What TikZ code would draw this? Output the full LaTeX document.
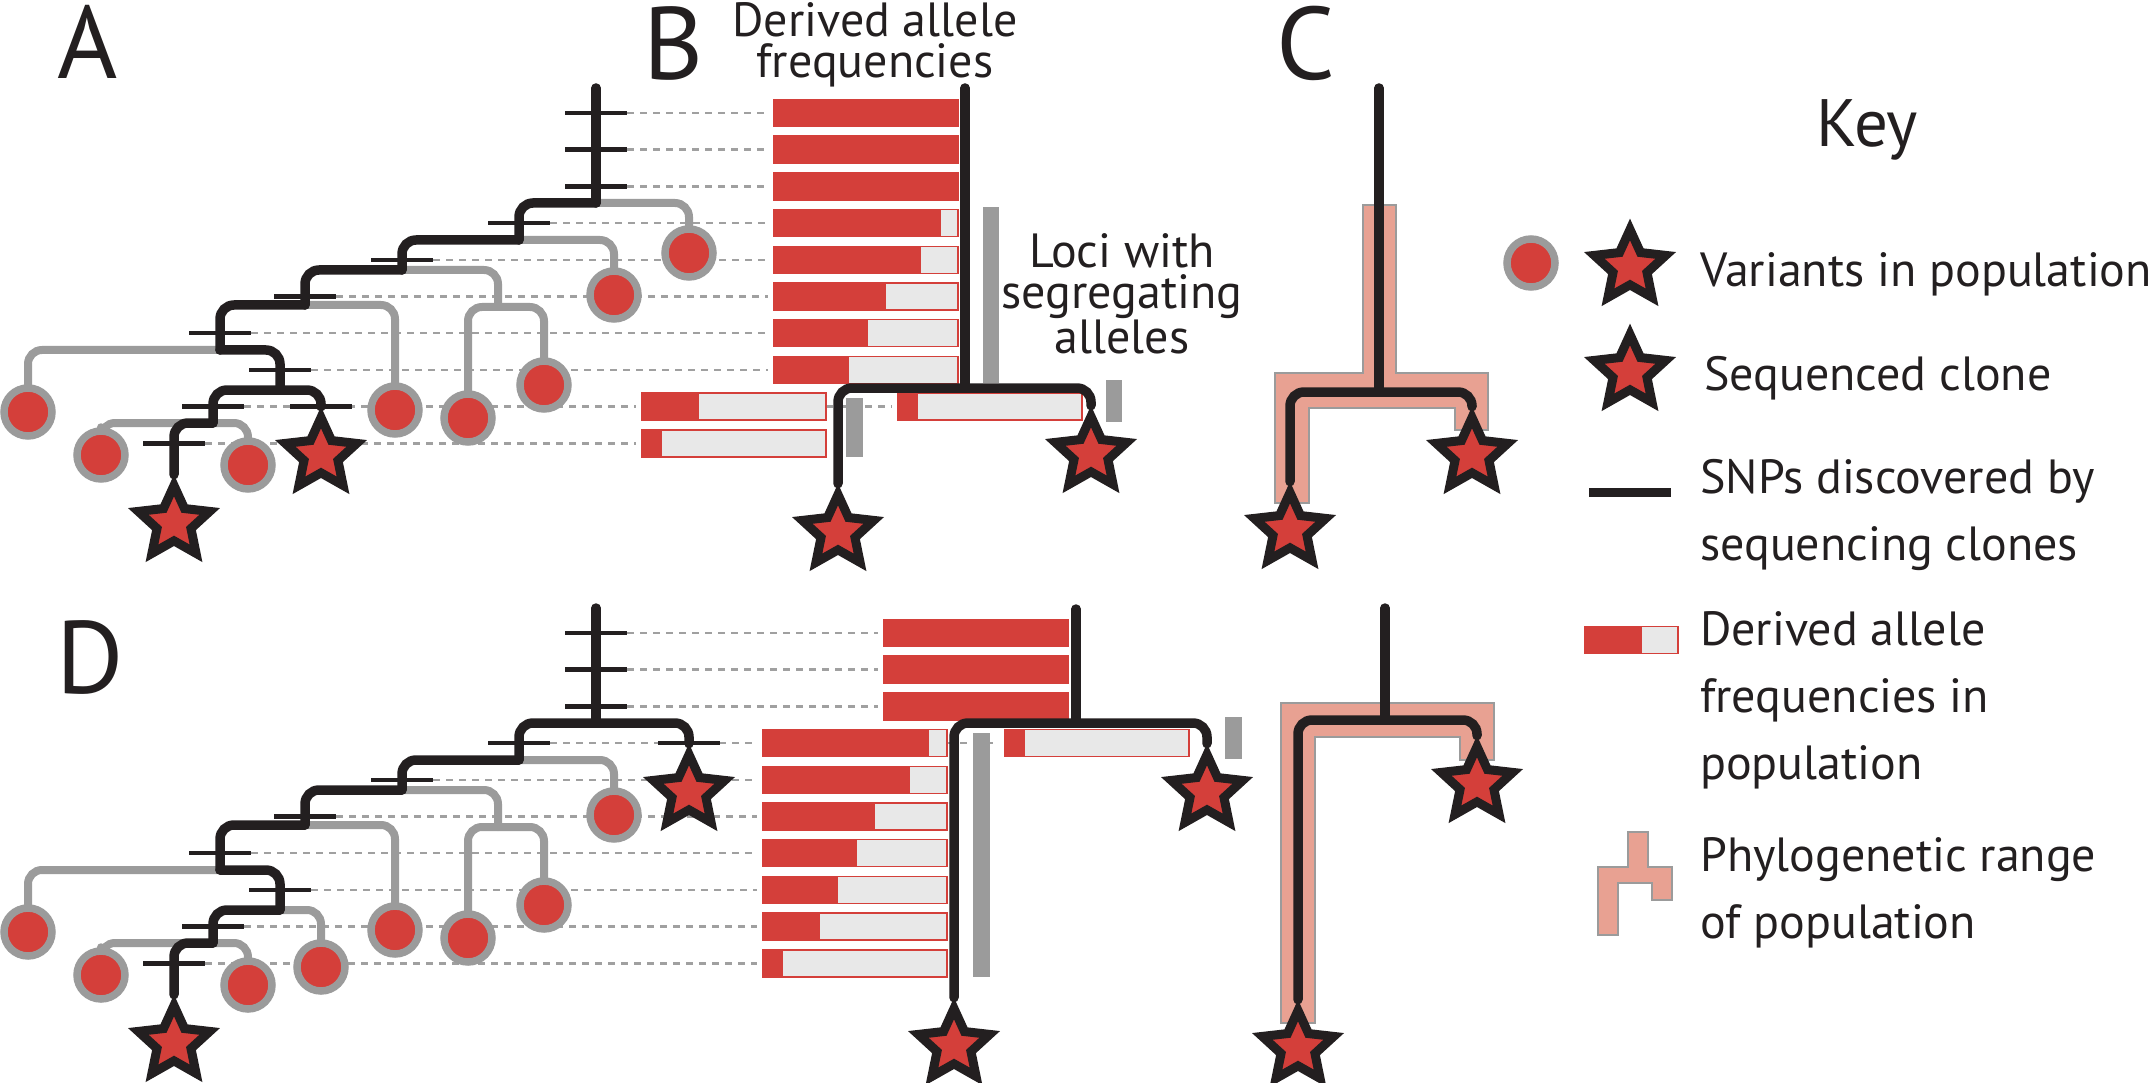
\documentclass[tikz,border=0pt]{standalone}
\usepackage{fontspec}
\setmainfont{PT Sans}
\usetikzlibrary{calc,shapes.geometric}

\definecolor{allele}{RGB}{212,63,58}
\definecolor{popgray}{RGB}{155,155,155}
\definecolor{barbg}{RGB}{232,232,232}
\definecolor{ink}{RGB}{35,31,32}
\definecolor{rangepink}{RGB}{232,161,146}
\definecolor{guidegray}{RGB}{160,160,160}

\pgfdeclarelayer{guides}
\pgfdeclarelayer{popback}
\pgfsetlayers{guides,popback,main}

\tikzset{
  lineage/.style={draw=ink, line width=9.5pt, line cap=round, rounded corners=14pt},
  popbranch/.style={draw=popgray, line width=8pt, line cap=round, rounded corners=14pt},
  snp/.style={draw=ink, line width=4.5pt},
  snpguide/.style={draw=guidegray, line width=2.5pt, dash pattern=on 7pt off 6pt, shorten >=6pt},
  popcirc/.style={circle, minimum size=48pt, inner sep=0pt, draw=popgray, fill=allele, line width=7.5pt},
  clonestar/.style={star, star points=5, star point ratio=2.1, minimum size=75pt, inner sep=0pt, draw=ink, fill=allele, line width=9pt},
  freqbar/.style={rectangle, anchor=west, minimum width=184pt, minimum height=27pt, inner sep=0pt, outer sep=0pt,
    draw=allele, fill=barbg, line width=1.5pt,
    path picture={\path (path picture bounding box.south west) coordinate (sw) (path picture bounding box.north east) coordinate (ne);
      \fill[allele] (sw) rectangle ($(sw|-ne)!#1!(ne)$);}},
  segbar/.style={fill=popgray},
  poprange/.style={fill=rangepink, draw=popgray, line width=1.2pt},
  panel/.style={font=\fontsize{103}{103}\selectfont, text=ink, inner sep=0pt, anchor=base west},
  lbl/.style={font=\fontsize{48}{41}\selectfont, text=ink, inner sep=0pt, align=center, anchor=base},
  keytext/.style={font=\fontsize{48}{67}\selectfont, text=ink, inner sep=0pt, align=left, anchor=base west},
}

\def\snp#1#2#3{\draw[snp] ({#2-31},#3) -- ({#2+31},#3) coordinate (#1);}

\def\cladetree#1{%
  \node[popcirc] (#1c2) at (614,295) {};
  \node[popcirc] (#1c3) at (544,385) {};
  \node[popcirc] (#1c4) at (468,418) {};
  \node[popcirc] (#1c5) at (395,410) {};
  \node[popcirc] (#1c6) at (28,412) {};
  \node[popcirc] (#1c7) at (101,455) {};
  \node[popcirc] (#1c8) at (248,465) {};
  \node[clonestar] (#1s1) at (174,523) {};
  \coordinate (#1top) at (596,88);
  \coordinate (#1j1) at (596,203);
  \coordinate (#1j2) at (519,240);
  \coordinate (#1j3) at (402,270);
  \coordinate (#1j4) at (305,305);
  \coordinate (#1j5) at (220,350);
  \coordinate (#1j6) at (280,390);
  \coordinate (#1j7) at (213,423);
  \coordinate (#1g1) at (498,307);
  \begin{pgfonlayer}{popback}
    \draw[popbranch] (#1j2) -| (#1c2.north);
    \draw[popbranch] (#1j3) -| (#1g1);
    \draw[popbranch] (#1g1) -| (#1c3.north);
    \draw[popbranch] (#1g1) -| (#1c4.north);
    \draw[popbranch] (#1j4) -| (#1c5.north);
    \draw[popbranch] (#1j5) -| (#1c6.north);
    \draw[popbranch] (#1j7) -| (#1c7.north);
    \draw[popbranch] (#1j7) -| (#1c8.north);
  \end{pgfonlayer}
  \draw[lineage] (#1top) -- (#1j1);
  \draw[lineage] (#1j1) -| (#1j2);
  \draw[lineage] (#1j2) -| (#1j3);
  \draw[lineage] (#1j3) -| (#1j4);
  \draw[lineage] (#1j4) -| (#1j5);
  \draw[lineage] (#1j5) -| (#1j6);
  \draw[lineage] (#1j6) -| (#1j7);
  \draw[lineage] (#1j7) -| (#1s1.north);
  \snp{#1t1}{596}{113}
  \snp{#1t2}{596}{149.7}
  \snp{#1t3}{596}{186.4}
  \snp{#1t4}{519}{223.1}
  \snp{#1t5}{402}{259.8}
  \snp{#1t6}{305}{296.5}
  \snp{#1t7}{220}{333.2}
  \snp{#1t8}{280}{369.9}
  \snp{#1t9}{213}{406.6}
  \snp{#1t10}{174}{443.3}
}

\begin{document}
\begin{tikzpicture}[x=1pt, y=-1pt]
		%%%%% START %%%%%
		\useasboundingbox (0,0) rectangle (2156,1083);
		
		\node[panel] (labA) at (57,79) {A};
		\node[panel] (labB) at (643,80) {B};
		\node[panel] (labC) at (1276,80) {C};
		\node[panel] (labD) at (56,693) {D};
		
		\node[lbl] (freqhead) at (875,78) {Derived allele\\frequencies};
		\node[lbl] (loci) at (1122,353) {Loci with\\segregating\\alleles};
		
		\draw[poprange] (1363,205) -- (1396,205) -- (1396,373) -- (1488,373) -- (1488,430) -- (1455,430) -- (1455,408) -- (1309,408) -- (1309,503) -- (1275,503) -- (1275,373) -- (1363,373) -- cycle;
		\draw[poprange] (1281,703) -- (1494,703) -- (1494,760) -- (1460,760) -- (1460,737) -- (1315,737) -- (1315,1023) -- (1281,1023) -- cycle;
		
		\node[freqbar=1] (ab1) at (774,113) {};
		\node[freqbar=1] (ab2) at (774,149.7) {};
		\node[freqbar=1] (ab3) at (774,186.4) {};
		\node[freqbar=0.91] (ab4) at (774,223.1) {};
		\node[freqbar=0.8] (ab5) at (774,259.8) {};
		\node[freqbar=0.61] (ab6) at (774,296.5) {};
		\node[freqbar=0.51] (ab7) at (774,333.2) {};
		\node[freqbar=0.41] (ab8) at (774,369.9) {};
		\node[freqbar=0.31] (ab9) at (642,406.6) {};
		\node[freqbar=0.11] (ab10) at (642,443.3) {};
		\node[freqbar=0.11] (ab9r) at (898,406.6) {};
		
		\node[freqbar=1] (db1) at (884,633) {};
		\node[freqbar=1] (db2) at (884,669.7) {};
		\node[freqbar=1] (db3) at (884,706.4) {};
		\node[freqbar=0.9] (db4) at (763,743.1) {};
		\node[freqbar=0.8] (db5) at (763,779.8) {};
		\node[freqbar=0.61] (db6) at (763,816.5) {};
		\node[freqbar=0.51] (db7) at (763,853.2) {};
		\node[freqbar=0.41] (db8) at (763,889.9) {};
		\node[freqbar=0.31] (db9) at (763,926.6) {};
		\node[freqbar=0.11] (db10) at (763,963.3) {};
		\node[freqbar=0.11] (db4r) at (1005,743.1) {};
		
		\fill[segbar] (983,207) rectangle (999,383);
		\fill[segbar] (1106,380) rectangle (1122,422);
		\fill[segbar] (846,398) rectangle (863,457);
		\fill[segbar] (973,733) rectangle (990,977);
		\fill[segbar] (1225,717) rectangle (1242,759);
		
		\cladetree{a}
		\node[popcirc] (ac1) at (689,253) {};
		\node[clonestar] (as2) at (321,455) {};
		\begin{pgfonlayer}{popback}
			\draw[popbranch] (aj1) -| (ac1.north);
		\end{pgfonlayer}
		\draw[lineage] (aj6) -| (as2.north);
		\snp{at9r}{321}{406.6}
		
		\begin{scope}[shift={(0,520)}]
			\cladetree{d}
			\node[clonestar] (ds2) at (689,272) {};
			\node[popcirc] (dc9) at (321,447) {};
			\begin{pgfonlayer}{popback}
				\draw[popbranch] (dj6) -| (dc9.north);
			\end{pgfonlayer}
			\draw[lineage] (dj1) -| (ds2.north);
			\snp{dt4r}{689}{223.1}
		\end{scope}
		
		\node[clonestar] (bs1) at (838,532) {};
		\node[clonestar] (bs2) at (1091,454) {};
		\coordinate (btop) at (965,88);
		\coordinate (bj) at (965,388);
		\draw[lineage] (btop) -- (bj);
		\draw[lineage] (bj) -| (bs1.north);
		\draw[lineage] (bj) -| (bs2.north);
		
		\node[clonestar] (cs1) at (1290,530) {};
		\node[clonestar] (cs2) at (1472,455) {};
		\coordinate (ctop) at (1379,88);
		\coordinate (cj) at (1379,392);
		\draw[lineage] (ctop) -- (cj);
		\draw[lineage] (cj) -| (cs1.north);
		\draw[lineage] (cj) -| (cs2.north);
		
		\node[clonestar] (dBs1) at (954,1046) {};
		\node[clonestar] (dBs2) at (1207,792) {};
		\coordinate (dBtop) at (1076,609);
		\coordinate (dBj) at (1076,723);
		\draw[lineage] (dBtop) -- (dBj);
		\draw[lineage] (dBj) -| (dBs1.north);
		\draw[lineage] (dBj) -| (dBs2.north);
		
		\node[clonestar] (dCs1) at (1298,1048) {};
		\node[clonestar] (dCs2) at (1477,784) {};
		\coordinate (dCtop) at (1385,608);
		\coordinate (dCj) at (1385,720);
		\draw[lineage] (dCtop) -- (dCj);
		\draw[lineage] (dCj) -| (dCs1.north);
		\draw[lineage] (dCj) -| (dCs2.north);
		
		\begin{pgfonlayer}{guides}
			\draw[snpguide] (at1) -- (ab1.west);
			\draw[snpguide] (at2) -- (ab2.west);
			\draw[snpguide] (at3) -- (ab3.west);
			\draw[snpguide] (at4) -- (ab4.west);
			\draw[snpguide] (at5) -- (ab5.west);
			\draw[snpguide] (at6) -- (ab6.west);
			\draw[snpguide] (at7) -- (ab7.west);
			\draw[snpguide] (at8) -- (ab8.west);
			\draw[snpguide] (at9) -- (ab9.west);
			\draw[snpguide] (at10) -- (ab10.west);
			\draw[snpguide] (ab9.east) -- (ab9r.west);
			\draw[snpguide] (dt1) -- (db1.west);
			\draw[snpguide] (dt2) -- (db2.west);
			\draw[snpguide] (dt3) -- (db3.west);
			\draw[snpguide] (dt4) -- (db4.west);
			\draw[snpguide] (dt5) -- (db5.west);
			\draw[snpguide] (dt6) -- (db6.west);
			\draw[snpguide] (dt7) -- (db7.west);
			\draw[snpguide] (dt8) -- (db8.west);
			\draw[snpguide] (dt9) -- (db9.west);
			\draw[snpguide] (dt10) -- (db10.west);
			\draw[snpguide] (db4.east) -- (db4r.west);
		\end{pgfonlayer}
		
		\node[keytext, anchor=base, font=\fontsize{67}{67}\selectfont] (keyhead) at (1867,147) {Key};
		\node[popcirc] (keycirc) at (1531,263) {};
		\node[clonestar] (keystar1) at (1630,267) {};
		\node[keytext] (keyvar) at (1700,287) {Variants in population};
		\node[clonestar] (keystar2) at (1630,372) {};
		\node[keytext] (keyclone) at (1704,390) {Sequenced clone};
		\draw[ink, line width=9pt] (1589,492) -- (1671,492);
		\node[keytext] (keysnp) at (1700,560) {SNPs discovered by\\sequencing clones};
		\node[freqbar=0.61, minimum width=93pt] (keybar) at (1585,640) {};
		\node[keytext] (keyfreq) at (1700,779) {Derived allele\\frequencies in\\population};
		\draw[poprange] (1628,832) -- (1648,832) -- (1648,867) -- (1672,867) -- (1672,900) -- (1652,900) -- (1652,883) -- (1618,883) -- (1618,935) -- (1598,935) -- (1598,867) -- (1628,867) -- cycle;
		\node[keytext] (keyrange) at (1700,938) {Phylogenetic range\\of population};
		
		%%%%% END %%%%%
	\end{tikzpicture}
\end{document}
